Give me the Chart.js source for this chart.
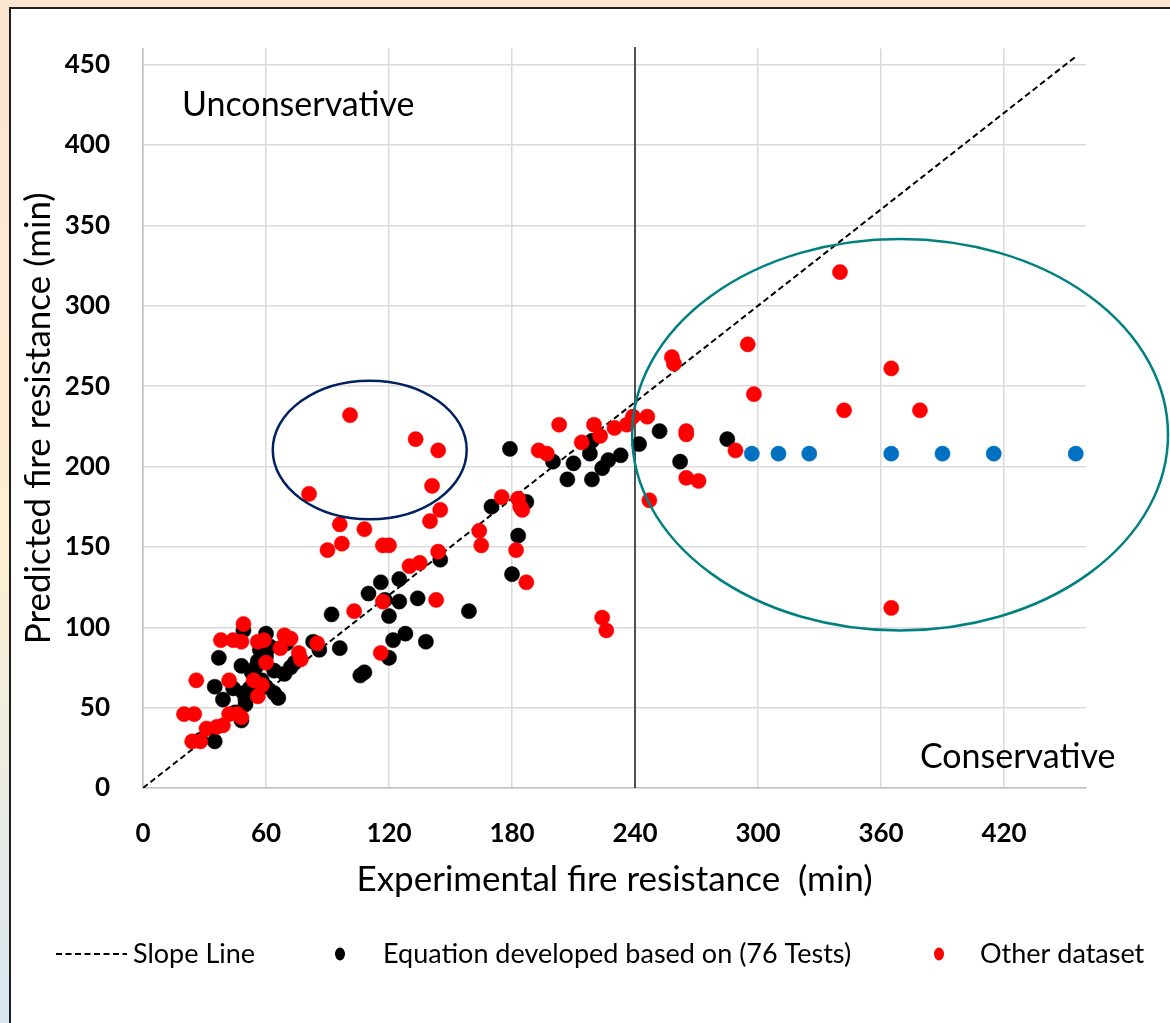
<!DOCTYPE html>
<html>
<head>
<meta charset="utf-8">
<script src="https://cdn.jsdelivr.net/npm/chart.js@4.4.1/dist/chart.umd.min.js"></script>
<style>
html,body{margin:0;padding:0;background:#fff;overflow:hidden;}
canvas{display:block;}
</style>
</head>
<body>
<canvas id="c" width="1170" height="1023"></canvas>
<script>
// ---------- data ----------
const xTickValues = [0, 60, 120, 180, 240, 300, 360, 420];
const yTickValues = [0, 50, 100, 150, 200, 250, 300, 350, 400, 450];
const xTitle = 'Experimental fire resistance  (min)';
const yTitle = 'Predicted fire resistance (min)';

const slopeLine = [[0, 0], [455, 455]];
const limitLine = [[240, 0], [240, 461]];

const equationPoints = [
  [35,29],[39,55],[48,42],[50,52],[35,63],[64,59],[49,98],[60,96],[37,81],[48,76],
  [56,79],[55,75],[64,73],[69,71],[72,75],[83,91],[86,86],[96,87],[92,108],[110,121],
  [106,70],[108,72],[49,59],[50,55],[60,63],[66,56],[60,82],[53,72],[58,67],[74,78],
  [57,86],[44,62],[52,62],[62,88],[70,90],[28,30],[45,47],[118,117],
  [145,142],[116,128],[125,130],[125,116],[120,107],[134,118],[159,110],[180,133],[183,157],
  [122,92],[128,96],[138,91],[120,81],
  [170,175],[179,211],[200,203],[210,202],[207,192],[219,192],[224,199],[227,204],[233,207],
  [218,208],[219,216],[242,214],[252,222],[262,203],[285,217],[187,178]
];

const otherPoints = [
  [20,46],[25,46],[26,67],[42,67],[31,37],[36,38],[39,39],[42,46],[46,46],[24,29],
  [28,29],[56,57],[54,67],[58,64],[48,44],
  [49,102],[38,92],[44,92],[48,91],[56,91],[59,92],[69,95],[72,93],[67,87],[76,84],
  [77,80],[60,78],[85,90],[103,110],[116,84],[117,116],
  [117,151],[144,147],[165,151],[182,148],[187,128],[130,138],[135,140],[143,117],[224,106],[226,98],
  [101,232],[133,217],[144,210],[141,188],[81,183],[145,173],[140,166],[96,164],[108,161],[90,148],
  [97,152],[120,151],[164,160],[175,181],
  [203,226],[220,226],[223,219],[214,215],[230,224],[236,226],[239,231],[246,231],[265,222],[265,220],
  [289,210],[193,210],[197,208],[265,193],[271,191],[247,179],[183,180],[184,175],[185,173],
  [340,321],[295,276],[258,268],[259,264],[298,245],[365,261],[342,235],[379,235],[365,112]
];

const cappedPoints = [[297,208],[310,208],[325,208],[365,208],[390,208],[415,208],[455,208]];

// annotation shapes in data units: [centerX, centerY, radiusX, radiusY]
const outlierEllipse = [110.6, 210.3, 47.3, 43.1];
const conservativeEllipse = [369.3, 219.8, 130.7, 121.8];
// annotation labels: [text, x, y]
const zoneLabels = [['Unconservative', 19, 425], ['Conservative', 379, 19]];

// ---------- helpers ----------
const FONT = 'Lato, "Open Sans", "DejaVu Sans", sans-serif';
const toXY = arr => arr.map(p => ({x: p[0], y: p[1]}));

const decor = {
  id: 'decor',
  beforeDraw(chart) {
    const ctx = chart.ctx, W = chart.width, H = chart.height;
    ctx.save();
    const g = ctx.createLinearGradient(0, 0, 0, H);
    g.addColorStop(0, '#fbe5d1');
    g.addColorStop(0.55, '#fdf0d3');
    g.addColorStop(1, '#d8e6f2');
    ctx.fillStyle = g;
    ctx.fillRect(0, 0, W, H);
    ctx.fillStyle = '#ffffff';
    ctx.fillRect(10, 8, W - 10, H - 8);
    ctx.strokeStyle = '#1e1e1e';
    ctx.lineWidth = 2;
    ctx.beginPath();
    ctx.moveTo(10, H);
    ctx.lineTo(10, 8);
    ctx.lineTo(W, 8);
    ctx.stroke();
    ctx.restore();
  },
  afterDatasetsDraw(chart) {
    const ctx = chart.ctx, xs = chart.scales.x, ys = chart.scales.y;
    const draw = (e, color) => {
      const cx = xs.getPixelForValue(e[0]);
      const cy = ys.getPixelForValue(e[1]);
      const rx = Math.abs(xs.getPixelForValue(e[0] + e[2]) - cx);
      const ry = Math.abs(ys.getPixelForValue(e[1] + e[3]) - cy);
      ctx.save();
      ctx.strokeStyle = color;
      ctx.lineWidth = 2.5;
      ctx.beginPath();
      ctx.ellipse(cx, cy, rx, ry, 0, 0, Math.PI * 2);
      ctx.stroke();
      ctx.restore();
    };
    draw(outlierEllipse, '#002060');
    draw(conservativeEllipse, '#008080');
  },
  afterDraw(chart) {
    const ctx = chart.ctx, xs = chart.scales.x, ys = chart.scales.y;
    ctx.save();
    ctx.fillStyle = '#000';
    ctx.textBaseline = 'middle';
    ctx.textAlign = 'left';
    ctx.font = '34px ' + FONT;
    zoneLabels.forEach(l => {
      ctx.fillText(l[0], xs.getPixelForValue(l[1]), ys.getPixelForValue(l[2]));
    });
    // legend
    const ds = chart.data.datasets;
    const ly = 954;
    ctx.font = '27px ' + FONT;
    // slope line item
    ctx.strokeStyle = ds[3].borderColor;
    ctx.lineWidth = 2;
    ctx.setLineDash([6, 3.5]);
    ctx.beginPath();
    ctx.moveTo(56, ly);
    ctx.lineTo(127, ly);
    ctx.stroke();
    ctx.setLineDash([]);
    ctx.fillText(ds[3].label, 133, ly);
    // dot items
    [[ds[1], 340, 383], [ds[0], 939, 980]].forEach(([d, cx, tx]) => {
      ctx.fillStyle = d.backgroundColor;
      ctx.beginPath();
      ctx.ellipse(cx, ly, 5, 6.5, 0, 0, Math.PI * 2);
      ctx.fill();
      ctx.fillStyle = '#000';
      ctx.fillText(d.label, tx, ly);
    });
    ctx.restore();
  }
};

const pointStyle = (color) => ({
  backgroundColor: color,
  borderColor: color,
  borderWidth: 0.5,
  pointRadius: 7.6,
  pointHoverRadius: 7.6,
  showLine: false
});

new Chart(document.getElementById('c'), {
  type: 'scatter',
  data: {
    datasets: [
      Object.assign({label: 'Other dataset', data: toXY(otherPoints), order: 1}, pointStyle('#ff0000')),
      Object.assign({label: 'Equation developed based on (76 Tests)', data: toXY(equationPoints), order: 2}, pointStyle('#000000')),
      Object.assign({label: 'Capped', data: toXY(cappedPoints), order: 0}, pointStyle('#0070c0')),
      {label: 'Slope Line', data: toXY(slopeLine), showLine: true, borderColor: '#000000', borderWidth: 2,
       borderDash: [6, 3.5], pointRadius: 0, pointHoverRadius: 0, fill: false, order: 3},
      {label: 'Limit', data: toXY(limitLine), showLine: true, borderColor: '#000000', borderWidth: 1.3,
       pointRadius: 0, pointHoverRadius: 0, fill: false, order: 4, clip: false}
    ]
  },
  options: {
    responsive: false,
    animation: false,
    events: [],
    layout: {padding: {top: 47, right: 84, left: 0, bottom: 0}},
    plugins: {legend: {display: false}, tooltip: {enabled: false}, title: {display: false}},
    scales: {
      x: {
        type: 'linear', min: 0, max: 460,
        afterBuildTicks: s => { s.ticks = xTickValues.map(v => ({value: v})); },
        afterFit: s => { s.height = 235; },
        grid: {color: '#d9d9d9', lineWidth: 1.5, drawTicks: false},
        border: {color: '#bfbfbf', width: 1.5},
        ticks: {color: '#000', font: {family: FONT, size: 26, weight: 'bold'}, padding: 30, maxRotation: 0},
        title: {display: true, text: xTitle, color: '#000', font: {family: FONT, size: 35}, padding: {top: 0, bottom: 122}}
      },
      y: {
        type: 'linear', min: 0, max: 460,
        afterBuildTicks: s => { s.ticks = yTickValues.map(v => ({value: v})); },
        afterFit: s => { s.width = 143; },
        grid: {color: '#d9d9d9', lineWidth: 1.5, drawTicks: false},
        border: {color: '#bfbfbf', width: 1.5},
        ticks: {color: '#000', font: {family: FONT, size: 26, weight: 'bold'}, padding: 33},
        title: {display: true, text: yTitle, color: '#000', font: {family: FONT, size: 35}, padding: {top: 18, bottom: 0}}
      }
    }
  },
  plugins: [decor]
});
</script>
</body>
</html>
